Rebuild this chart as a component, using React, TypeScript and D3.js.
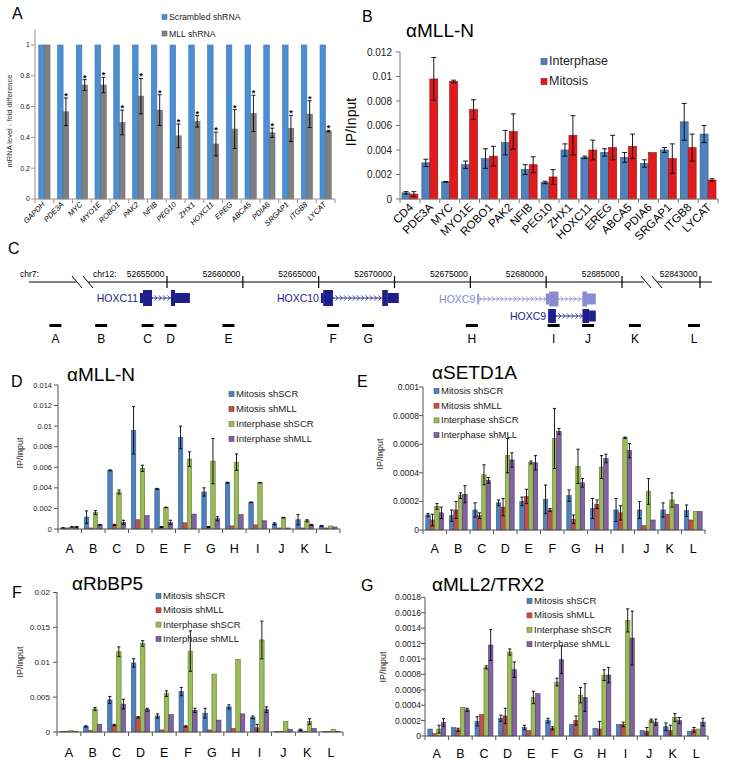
import React, { useEffect, useRef } from "react";
import * as d3 from "d3";

const FONT = "'Liberation Sans', Arial, Helvetica, sans-serif";

// ---------------- Panel A ----------------
const genesA = ["GAPDH", "PDE3A", "MYC", "MYO1E", "ROBO1", "PAK2", "NFIB", "PEG10", "ZHX1", "HOXC11", "EREG", "ABCA5", "PDIA6", "SRGAP1", "ITGB8", "LYCAT"];
const scrambledA = [1, 1, 1, 1, 1, 1, 1, 1, 1, 1, 1, 1, 1, 1, 1, 1];
const scrambledErrA = [0, 0, 0, 0, 0, 0, 0, 0, 0, 0, 0, 0, 0, 0, 0, 0];
const mllShA = [1, 0.566, 0.74, 0.74, 0.497, 0.668, 0.577, 0.41, 0.504, 0.357, 0.454, 0.556, 0.43, 0.458, 0.551, 0.441];
const mllShErrA = [0, 0.09, 0.035, 0.05, 0.08, 0.115, 0.1, 0.077, 0.037, 0.077, 0.126, 0.118, 0.03, 0.085, 0.087, 0.005];
const significantA = [false, true, true, true, true, true, true, true, true, true, true, true, true, true, true, true];
const ticksA = [0, 0.2, 0.4, 0.6, 0.8, 1];

// ---------------- Panel B ----------------
const genesB = ["CD4", "PDE3A", "MYC", "MYO1E", "ROBO1", "PAK2", "NFIB", "PEG10", "ZHX1", "HOXC11", "EREG", "ABCA5", "PDIA6", "SRGAP1", "ITGB8", "LYCAT"];
const interphaseB = [0.0005, 0.00295, 0.0014, 0.0028, 0.0033, 0.0046, 0.0024, 0.00135, 0.004, 0.0034, 0.0038, 0.0034, 0.0029, 0.004, 0.0063, 0.0053];
const interphaseErrB = [0.0001, 0.0003, 0.00003, 0.0003, 0.0008, 0.001, 0.0004, 0.0001, 0.0005, 0.0001, 0.0003, 0.0004, 0.0003, 0.0002, 0.0015, 0.0007];
const mitosisB = [0.0004, 0.0098, 0.0096, 0.0073, 0.0035, 0.0055, 0.0028, 0.0018, 0.0052, 0.004, 0.0042, 0.0043, 0.0038, 0.0033, 0.0042, 0.00155];
const mitosisErrB = [0.0002, 0.00175, 0.0001, 0.0008, 0.0008, 0.00145, 0.00065, 0.0006, 0.0016, 0.0008, 0.001, 0.001, 0, 0.0012, 0.0011, 0.0001];
const ticksB = [0, 0.002, 0.004, 0.006, 0.008, 0.01, 0.012];

// ---------------- Panel C (gene map, hg coordinates) ----------------
const axisTicksC = [52655000, 52660000, 52665000, 52670000, 52675000, 52680000, 52685000];
const farTickC = [52843000];
const chr12SpanC = [52649800, 52686450];
const farSpanC = [52840170, 52843790];
const hoxc11Exons = [[52653220, 52653420, 0], [52653420, 52654010, 1], [52655260, 52655530, 1], [52655530, 52656510, 0]];
const hoxc10Exons = [[52665150, 52665300, 0], [52665300, 52665940, 1], [52669190, 52669560, 1], [52669560, 52670280, 0]];
const hoxc9LongExons = [[52675460, 52675560, 0], [52679980, 52680200, 0], [52680200, 52680810, 1], [52682390, 52682700, 1], [52682700, 52683270, 0]];
const hoxc9ShortExons = [[52680130, 52680640, 1], [52682390, 52682830, 1], [52682830, 52683270, 0]];
const primerNamesC = ["B", "C", "D", "E", "F", "G", "H", "I", "J", "K"];
const primerPosC = [52650660, 52653720, 52655230, 52659050, 52665950, 52668260, 52675100, 52680490, 52682760, 52685850];
const farPrimerNamesC = ["L"];
const farPrimerPosC = [52842605];

// ---------------- Panels D-G ----------------
const sites = ["A", "B", "C", "D", "E", "F", "G", "H", "I", "J", "K", "L"];
const legendNames = ["Mitosis shSCR", "Mitosis shMLL", "Interphase shSCR", "Interphase shMLL"];

// D: MLL-N
const dMitSCR = [0.0001, 0.00116, 0.0057, 0.0096, 0.0039, 0.0089, 0.0036, 0.0045, 0.0026, 0.0005, 0.0009, 0.0003];
const dMitSCRErr = [0.00002, 0.0006, 0.00005, 0.0023, 0.00005, 0.0011, 0.0004, 0.00005, 0.00003, 0.0001, 0.0005, 0.00005];
const dMitMLL = [0.0001, 0.0001, 0.0004, 0.0009, 0.0002, 0.0006, 0.0002, 0.0003, 0.0004, 0.0001, 0.0001, 0.0001];
const dMitMLLErr = [0, 0, 0.00005, 0, 0.00005, 0, 0.00005, 0, 0, 0, 0, 0];
const dIntSCR = [0.0002, 0.0016, 0.0036, 0.0059, 0.0021, 0.0068, 0.0066, 0.0065, 0.0045, 0.0011, 0.0008, 0.0003];
const dIntSCRErr = [0.00003, 0.0002, 0.0002, 0.0003, 0.00003, 0.0007, 0.0022, 0.0008, 0.00003, 0.00003, 0.0001, 0];
const dIntMLL = [0.0002, 0.0004, 0.00065, 0.0013, 0.00065, 0.00145, 0.001, 0.0014, 0.0008, 0.0001, 0.0004, 0.0002];
const dIntMLLErr = [0.00003, 0.00003, 0.0002, 0, 0.0002, 0, 0.0002, 0, 0, 0, 0.00005, 0];
const ticksD = [0, 0.002, 0.004, 0.006, 0.008, 0.01, 0.012, 0.014];

// E: SETD1A
const eMitSCR = [0.000105, 0.0001, 0.00014, 0.00019, 0.0002, 0.000215, 0.00024, 0.00015, 0.00014, 0.00014, 0.00014, 0.000135];
const eMitSCRErr = [0.00001, 0.00004, 0.00005, 0.00002, 0.00003, 0.0001, 0.00004, 0.00007, 0.00008, 0.00006, 0.00005, 0.00004];
const eMitMLL = [0.00007, 0.00014, 0.0001, 0.00016, 0.000235, 0.00014, 0.000075, 0.00018, 0.00012, 0.00003, 0.00011, 0.00007];
const eMitMLLErr = [0.00004, 0.00006, 0.00002, 0.00006, 0.00005, 0.00001, 0.00003, 0.00003, 0.00005, 0, 0, 0];
const eIntSCR = [0.000165, 0.00024, 0.000386, 0.00052, 0.000472, 0.00064, 0.000445, 0.00044, 0.000645, 0.00027, 0.00021, 0.00013];
const eIntSCRErr = [0.00002, 0.00002, 0.00007, 0.00012, 0.00001, 0.00021, 0.00012, 0.00008, 0.000005, 0.00009, 0.00005, 0];
const eIntMLL = [0.00012, 0.00025, 0.000347, 0.00049, 0.00047, 0.00069, 0.00033, 0.0005, 0.000555, 0.00007, 0.00018, 0.00013];
const eIntMLLErr = [0.00004, 0.00006, 0.00002, 0.00005, 0.00005, 0.00002, 0.00003, 0.00003, 0.00005, 0, 0, 0];
const ticksE = [0, 0.0002, 0.0004, 0.0006, 0.0008, 0.001];

// F: RbBP5
const fMitSCR = [0.0001, 0.0008, 0.0046, 0.0099, 0.0023, 0.0058, 0.0027, 0.0036, 0.0021, 0.0001, 0.0003, 0.0001];
const fMitSCRErr = [0, 0.0001, 0.0005, 0.0006, 0.0003, 0.0006, 0.0007, 0.0003, 0.0002, 0, 0.0001, 0];
const fMitMLL = [0.0001, 0.0002, 0.001, 0.0021, 0.0003, 0.0008, 0.0003, 0.0005, 0.0006, 0.0001, 0.0001, 0.0001];
const fMitMLLErr = [0, 0, 0.0001, 0.0001, 0, 0.0001, 0, 0, 0.0005, 0, 0, 0];
const fIntSCR = [0.0002, 0.0033, 0.0115, 0.0127, 0.0055, 0.0116, 0.0083, 0.0104, 0.0132, 0.0015, 0.0015, 0.0004];
const fIntSCRErr = [0, 0.0002, 0.0007, 0.0004, 0.0004, 0.0029, 0, 0, 0.0027, 0, 0.0004, 0];
const fIntMLL = [0.0001, 0.0011, 0.004, 0.0032, 0.0025, 0.0031, 0.0017, 0.0026, 0.0032, 0.0004, 0.0005, 0.0001];
const fIntMLLErr = [0, 0, 0.0007, 0.0002, 0, 0.0003, 0, 0, 0.0004, 0, 0, 0];
const ticksF = [0, 0.005, 0.01, 0.015, 0.02];

// G: MLL2/TRX2
const gMitSCR = [0.00009, 0.00011, 0.00019, 0.00023, 0.00011, 0.0002, 0.00015, 0.0001, 0.00015, 0.00007, 0.00012, 0.00006];
const gMitSCRErr = [0, 0, 0.00006, 0.00004, 0.00003, 0.00003, 0, 0, 0, 0, 0.00005, 0];
const gMitMLL = [0.00003, 0.00008, 0.00028, 0.00026, 0.00007, 0.0001, 0.0002, 0.00009, 0.00015, 0.00006, 0.00007, 0.00008];
const gMitMLLErr = [0, 0.00002, 0, 0.0001, 0, 0.00002, 0.00006, 0.0001, 0.00003, 0.00005, 0.00007, 0.00003];
const gIntSCR = [0.00009, 0.00037, 0.00089, 0.00109, 0.0005, 0.0007, 0.00053, 0.00079, 0.0015, 0.0002, 0.00024, 0.00009];
const gIntSCRErr = [0.00005, 0, 0.00002, 0.00004, 0.00008, 0.00005, 0.0001, 0.00007, 0.00015, 0.00002, 0.00005, 0];
const gIntMLL = [0.000175, 0.00034, 0.00118, 0.00086, 0.00055, 0.00099, 0.0005, 0.00079, 0.00127, 0.00018, 0.0002, 0.00018];
const gIntMLLErr = [0.00005, 0.00002, 0.0002, 0.0001, 0, 0.00018, 0.00018, 0.0001, 0.00035, 0.00004, 0.00004, 0.00005];
const ticksG = [0, 0.0002, 0.0004, 0.0006, 0.0008, 0.001, 0.0012, 0.0014, 0.0016, 0.0018];

const C_BLUE = { fill: "#4f81bd", stroke: "#2f5588" };
const C_RED = { fill: "#c0504d", stroke: "#8c2b29" };
const C_GREEN = { fill: "#9bbb59", stroke: "#5f7a2c" };
const C_PURPLE = { fill: "#8064a2", stroke: "#4e3a6b" };

type Series = { values: number[]; errs: number[]; fill: string; stroke: string };

function txt(g: any, x: number, y: number, s: string, size: number, opts: any = {}) {
  const t = g
    .append("text")
    .attr("x", x)
    .attr("y", y)
    .attr("font-family", FONT)
    .attr("font-size", size)
    .attr("fill", opts.fill || "#000")
    .attr("text-anchor", opts.anchor || "start")
    .text(s);
  if (opts.italic) t.attr("font-style", "italic");
  if (opts.weight) t.attr("font-weight", opts.weight);
  if (opts.rotate !== undefined) t.attr("transform", `rotate(${opts.rotate},${x},${y})`);
  return t;
}

function barChart(svg: any, cfg: any) {
  const g = svg.append("g");
  const x = d3.scaleBand<string>().domain(cfg.cats).range([cfg.x0, cfg.x1]);
  const y = d3.scaleLinear().domain([0, cfg.yMax]).range([cfg.yBase, cfg.yTop]);
  const series: Series[] = cfg.series;
  const bw = x.bandwidth() * cfg.frac;
  const off = (x.bandwidth() - bw * series.length) / 2;
  const sub = d3
    .scaleBand<number>()
    .domain(series.map((_, i) => i))
    .range([off, off + bw * series.length]);

  const axisColor = cfg.axisColor || "#666";
  g.append("line")
    .attr("x1", cfg.x0).attr("x2", cfg.x0)
    .attr("y1", y(0)).attr("y2", y(cfg.yMax))
    .attr("stroke", axisColor).attr("stroke-width", 1);
  cfg.ticks.forEach((t: number) => {
    g.append("line")
      .attr("x1", cfg.x0 - 4).attr("x2", cfg.x0)
      .attr("y1", y(t)).attr("y2", y(t))
      .attr("stroke", axisColor).attr("stroke-width", 1);
    txt(g, cfg.tickRight, y(t) + cfg.tickFont * 0.35, String(t), cfg.tickFont, { anchor: "end", fill: "#222" });
  });

  series.forEach((s, si) => {
    g.selectAll(null)
      .data(cfg.cats)
      .enter()
      .append("rect")
      .attr("x", (c: string) => (x(c) as number) + (sub(si) as number))
      .attr("y", (_: string, i: number) => y(s.values[i]))
      .attr("width", bw)
      .attr("height", (_: string, i: number) => y(0) - y(s.values[i]))
      .attr("fill", s.fill)
      .attr("stroke", s.stroke)
      .attr("stroke-width", 0.6);
  });
  series.forEach((s, si) => {
    cfg.cats.forEach((c: string, i: number) => {
      const e = s.errs[i];
      if (!e) return;
      const cx = (x(c) as number) + (sub(si) as number) + bw / 2;
      const lo = Math.max(0, s.values[i] - e);
      const hi = s.values[i] + e;
      const cap = cfg.cap;
      g.append("line").attr("x1", cx).attr("x2", cx).attr("y1", y(lo)).attr("y2", y(hi)).attr("stroke", "#000").attr("stroke-width", 0.9);
      g.append("line").attr("x1", cx - cap).attr("x2", cx + cap).attr("y1", y(hi)).attr("y2", y(hi)).attr("stroke", "#000").attr("stroke-width", 0.9);
      if (s.values[i] - e > 0)
        g.append("line").attr("x1", cx - cap).attr("x2", cx + cap).attr("y1", y(lo)).attr("y2", y(lo)).attr("stroke", "#000").attr("stroke-width", 0.9);
    });
  });

  g.append("line")
    .attr("x1", cfg.x0).attr("x2", cfg.x1)
    .attr("y1", y(0)).attr("y2", y(0))
    .attr("stroke", axisColor).attr("stroke-width", 1);
  d3.range(cfg.cats.length + 1).forEach((i) => {
    const xx = cfg.x0 + i * x.step();
    g.append("line").attr("x1", xx).attr("x2", xx).attr("y1", y(0)).attr("y2", y(0) + 4).attr("stroke", axisColor).attr("stroke-width", 1);
  });
  cfg.cats.forEach((c: string) => {
    const cx = (x(c) as number) + x.bandwidth() / 2;
    if (cfg.rotLabels) {
      txt(g, cx + cfg.labDx, cfg.labY, c, cfg.labFont, { anchor: "end", rotate: -45, italic: cfg.italic });
    } else {
      txt(g, cx, cfg.labY, c, cfg.labFont, { anchor: "middle" });
    }
  });
  return { g, x, y, sub, bw };
}

function legend(g: any, x: number, y0: number, dy: number, names: string[], cols: any[], size: number, sq: number) {
  names.forEach((n, i) => {
    const by = y0 + i * dy;
    g.append("rect").attr("x", x).attr("y", by - sq - 0.5).attr("width", sq).attr("height", sq).attr("fill", cols[i].fill).attr("stroke", cols[i].stroke).attr("stroke-width", 0.6);
    txt(g, x + sq + 2, by, n, size, { fill: "#222" });
  });
}

function fourPanel(svg: any, p: any) {
  const cols = [C_BLUE, C_RED, C_GREEN, C_PURPLE];
  const series = p.data.map((d: any, i: number) => ({ values: d[0], errs: d[1], fill: cols[i].fill, stroke: cols[i].stroke }));
  const r = barChart(svg, {
    cats: sites, x0: p.x0, x1: p.x1, yBase: p.yBase, yTop: p.yTop, yMax: p.yMax, ticks: p.ticks,
    series, frac: 0.19, cap: 1.6, tickFont: p.tickFont, tickRight: p.tickRight,
    labY: p.labY, labFont: 12.5, rotLabels: false, axisColor: "#555",
  });
  txt(svg, p.letterX, p.letterY, p.letter, 16);
  txt(svg, p.titleX, p.titleY, p.title, 19);
  txt(svg, p.ylabX, p.ylabY, "IP/Input", 9, { anchor: "middle", rotate: -90, fill: "#222" });
  legend(svg, p.legX, p.legY, p.legDy, legendNames, cols, 9.5, 5);
  return r;
}

function drawAll(svgEl: SVGSVGElement) {
  const svg = d3.select(svgEl);
  svg.selectAll("*").remove();
  svg.append("rect").attr("width", 729).attr("height", 765).attr("fill", "#fff");

  // ---------- A ----------
  const rA = barChart(svg, {
    cats: genesA, x0: 35, x1: 335, yBase: 199, yTop: 29.6, yMax: 1.1, ticks: ticksA,
    series: [
      { values: scrambledA, errs: scrambledErrA, fill: "#4a8fd2", stroke: "#3a7bbb" },
      { values: mllShA, errs: mllShErrA, fill: "#808080", stroke: "#6a6a6a" },
    ],
    frac: 0.3, cap: 2, tickFont: 7, tickRight: 30, labY: 205, labDx: 1, labFont: 7.5, rotLabels: true, italic: true,
    axisColor: "#a09090",
  });
  genesA.forEach((gname, i) => {
    if (!significantA[i]) return;
    const cx = (rA.x(gname) as number) + (rA.sub(1) as number) + rA.bw / 2;
    txt(rA.g, cx, rA.y(mllShA[i] + mllShErrA[i]) + 1, "*", 9, { anchor: "middle", weight: "bold" });
  });
  txt(svg, 12, 19, "A", 16);
  txt(svg, 12, 121, "mRNA level - fold difference", 7.5, { anchor: "middle", rotate: -90, fill: "#333" });
  legend(svg, 162, 20, 16.5, ["Scrambled shRNA", "MLL shRNA"], [{ fill: "#4a8fd2", stroke: "#3a7bbb" }, { fill: "#808080", stroke: "#6a6a6a" }], 8.7, 5);

  // ---------- B ----------
  barChart(svg, {
    cats: genesB, x0: 400, x1: 718, yBase: 199, yTop: 52, yMax: 0.012, ticks: ticksB,
    series: [
      { values: interphaseB, errs: interphaseErrB, fill: "#4f81bd", stroke: "#2c5079" },
      { values: mitosisB, errs: mitosisErrB, fill: "#e11b1b", stroke: "#9a1010" },
    ],
    frac: 0.4, cap: 2.5, tickFont: 10, tickRight: 392, labY: 208, labDx: 4, labFont: 11.5, rotLabels: true,
    axisColor: "#777",
  });
  txt(svg, 362, 22, "B", 16);
  txt(svg, 406, 37, "\u03b1MLL-N", 19);
  txt(svg, 356, 122, "IP/Input", 14, { anchor: "middle", rotate: -90 });
  legend(svg, 541, 65, 20, ["Interphase", "Mitosis"], [{ fill: "#4f81bd", stroke: "#2c5079" }, { fill: "#e11b1b", stroke: "#9a1010" }], 12.5, 6);

  // ---------- C ----------
  const gc = svg.append("g");
  txt(gc, 8, 254, "C", 16);
  const lineY = 282;
  const xs = d3.scaleLinear().domain([axisTicksC[0], axisTicksC[axisTicksC.length - 1]]).range([167, 622]);
  const slope = (622 - 167) / (axisTicksC[axisTicksC.length - 1] - axisTicksC[0]);
  const xf = d3.scaleLinear().domain([farTickC[0] - 5000, farTickC[0]]).range([700 - 5000 * slope, 700]);
  const navy = "#1e1e8c";
  const light = "#8a8ad0";
  gc.append("line").attr("x1", 29).attr("x2", 77).attr("y1", lineY).attr("y2", lineY).attr("stroke", "#000").attr("stroke-width", 1);
  gc.append("line").attr("x1", xs(chr12SpanC[0])).attr("x2", xs(chr12SpanC[1])).attr("y1", lineY).attr("y2", lineY).attr("stroke", "#000").attr("stroke-width", 1);
  gc.append("line").attr("x1", xf(farSpanC[0])).attr("x2", xf(farSpanC[1])).attr("y1", lineY).attr("y2", lineY).attr("stroke", "#000").attr("stroke-width", 1);
  [77, 88, 646, 657].forEach((sx) => {
    gc.append("line").attr("x1", sx - 5).attr("x2", sx + 5).attr("y1", lineY - 6).attr("y2", lineY + 6).attr("stroke", "#000").attr("stroke-width", 1);
  });
  txt(gc, 20, 277, "chr7:", 8.5);
  txt(gc, 93, 277, "chr12:", 8.5);
  axisTicksC.forEach((t) => {
    gc.append("line").attr("x1", xs(t)).attr("x2", xs(t)).attr("y1", lineY - 6).attr("y2", lineY + 6).attr("stroke", "#000").attr("stroke-width", 1.2);
    txt(gc, xs(t) - 2.5, 277, String(t), 8.5, { anchor: "end" });
  });
  farTickC.forEach((t) => {
    gc.append("line").attr("x1", xf(t)).attr("x2", xf(t)).attr("y1", lineY - 6).attr("y2", lineY + 6).attr("stroke", "#000").attr("stroke-width", 1.2);
    txt(gc, xf(t) - 2.5, 277, String(t), 8.5, { anchor: "end" });
  });

  function gene(exons: number[][], yc: number, color: string, label: string, cdsH: number, utrH: number) {
    const gx0 = xs(exons[0][0]);
    const gx1 = xs(exons[exons.length - 1][1]);
    gc.append("line").attr("x1", gx0).attr("x2", gx1).attr("y1", yc).attr("y2", yc).attr("stroke", color).attr("stroke-width", 0.9);
    for (let k = gx0 + 3; k < gx1 - 1; k += 4.3) {
      gc.append("path").attr("d", `M${k - 1.3},${yc - 2.6}L${k + 1},${yc}L${k - 1.3},${yc + 2.6}`).attr("fill", "none").attr("stroke", color).attr("stroke-width", 0.8);
    }
    exons.forEach((e) => {
      const h = e[2] ? cdsH : utrH;
      gc.append("rect").attr("x", xs(e[0])).attr("y", yc - h / 2).attr("width", Math.max(1, xs(e[1]) - xs(e[0]))).attr("height", h).attr("fill", color);
    });
    txt(gc, gx0 - 2, yc + 3.6, label, 10.5, { anchor: "end", fill: color });
  }
  gene(hoxc11Exons, 298, navy, "HOXC11", 16, 10);
  gene(hoxc10Exons, 298, navy, "HOXC10", 16, 10);
  gene(hoxc9LongExons, 299, light, "HOXC9", 15, 11);
  gene(hoxc9ShortExons, 316, navy, "HOXC9", 14, 11);

  const primerY = 325.5;
  const drawPrimer = (px: number, name: string) => {
    gc.append("rect").attr("x", px - 6).attr("y", primerY - 1.5).attr("width", 12).attr("height", 3).attr("fill", "#000");
    txt(gc, px, 343, name, 12, { anchor: "middle" });
  };
  drawPrimer(29 + 0.55 * (77 - 29), "A");
  primerNamesC.forEach((n, i) => drawPrimer(xs(primerPosC[i]), n));
  farPrimerNamesC.forEach((n, i) => drawPrimer(xf(farPrimerPosC[i]), n));

  // ---------- D ----------
  fourPanel(svg, {
    data: [[dMitSCR, dMitSCRErr], [dMitMLL, dMitMLLErr], [dIntSCR, dIntSCRErr], [dIntMLL, dIntMLLErr]],
    x0: 58, x1: 340, yBase: 529, yTop: 385, yMax: 0.014, ticks: ticksD, tickFont: 7.5, tickRight: 52, labY: 553,
    letter: "D", letterX: 11, letterY: 387, title: "\u03b1MLL-N", titleX: 67, titleY: 381,
    ylabX: 23, ylabY: 453, legX: 229, legY: 397, legDy: 15,
  });
  // ---------- E ----------
  fourPanel(svg, {
    data: [[eMitSCR, eMitSCRErr], [eMitMLL, eMitMLLErr], [eIntSCR, eIntSCRErr], [eIntMLL, eIntMLLErr]],
    x0: 423, x1: 705, yBase: 530, yTop: 387, yMax: 0.001, ticks: ticksE, tickFont: 8.5, tickRight: 419, labY: 553,
    letter: "E", letterX: 357, letterY: 387, title: "\u03b1SETD1A", titleX: 432, titleY: 379,
    ylabX: 383, ylabY: 454, legX: 434, legY: 394, legDy: 14.7,
  });
  // ---------- F ----------
  fourPanel(svg, {
    data: [[fMitSCR, fMitSCRErr], [fMitMLL, fMitMLLErr], [fIntSCR, fIntSCRErr], [fIntMLL, fIntMLLErr]],
    x0: 57, x1: 343, yBase: 732, yTop: 592.5, yMax: 0.02, ticks: ticksF, tickFont: 8, tickRight: 50, labY: 757,
    letter: "F", letterX: 12, letterY: 598, title: "\u03b1RbBP5", titleX: 72, titleY: 590,
    ylabX: 23, ylabY: 662, legX: 156, legY: 599, legDy: 14.3,
  });
  // ---------- G ----------
  fourPanel(svg, {
    data: [[gMitSCR, gMitSCRErr], [gMitMLL, gMitMLLErr], [gIntSCR, gIntSCRErr], [gIntMLL, gIntMLLErr]],
    x0: 425, x1: 708, yBase: 736, yTop: 597.3, yMax: 0.0018, ticks: ticksG, tickFont: 8.5, tickRight: 421, labY: 758,
    letter: "G", letterX: 361, letterY: 591, title: "\u03b1MLL2/TRX2", titleX: 432, titleY: 591,
    ylabX: 386, ylabY: 667, legX: 527, legY: 604, legDy: 14.4,
  });
}

export default function App() {
  const ref = useRef<SVGSVGElement>(null);
  useEffect(() => {
    if (ref.current) drawAll(ref.current);
  }, []);
  return (
    <svg
      ref={ref}
      width={729}
      height={765}
      style={{ position: "absolute", left: 0, top: 0, display: "block" }}
    />
  );
}
